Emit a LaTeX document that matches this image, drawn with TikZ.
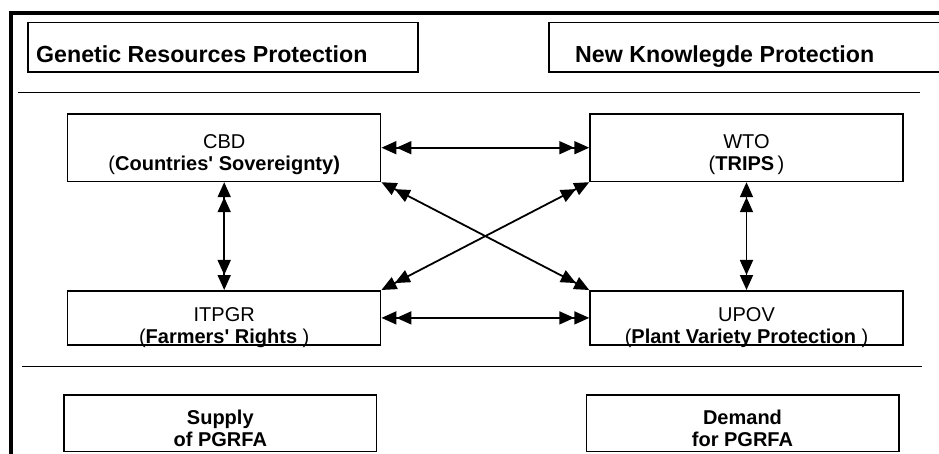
\documentclass[tikz,border=0pt]{standalone}
\usepackage{fontspec}
\setmainfont{Liberation Sans}[Ligatures=TeXOff]
\usetikzlibrary{arrows.meta}

\begin{document}
\begin{tikzpicture}[x=1pt,y=-1pt,
    box/.style={draw,line width=1.5pt,inner sep=0pt,minimum width=313pt},
    txt/.style={align=center,inner sep=0pt,font=\fontsize{20}{22}\selectfont},
    head/.style={inner sep=0pt,font=\fontsize{23.2}{24}\selectfont\bfseries},
    dbl/.style={line width=1.8pt,
        {Triangle[length=15pt,width=13pt,sep=0pt]Triangle[length=15pt,width=13pt,sep=0pt]}-{Triangle[length=15pt,width=13pt,sep=0pt]Triangle[length=15pt,width=13pt,sep=0pt]}}]
    \clip (0,0) rectangle (939,454);
    % frame and separators
    \draw[line width=3.5pt] (945,13) -- (11,13) -- (11,460);
    \draw[line width=1.5pt] (18,92.7) -- (920,92.7);
    \draw[line width=1.5pt] (22,366.7) -- (921.7,366.7);

    % headers
    \node[box,minimum width=390pt,minimum height=49.3pt] (gen) at (222.9,47.4) {};
    \node[box,minimum width=401pt,minimum height=49.3pt] (new) at (749.5,47.4) {};
    \node[head,anchor=base west] (gentxt) at (36,62.5) {Genetic Resources Protection};
    \node[head,anchor=base west] (newtxt) at (575,62.5) {New Knowlegde Protection};

    % treaties
    \node[box,minimum height=67.5pt] (cbd) at (224.2,147.7) {};
    \node[box,minimum height=67.5pt] (wto) at (746.5,147.7) {};
    \node[box,minimum height=54.3pt] (itpgr) at (224.2,317.9) {};
    \node[box,minimum height=54.3pt] (upov) at (746.5,317.9) {};
    \node[txt,anchor=base] (cbdtxt) at (224.2,171) {CBD\\(\textbf{Countries' Sovereignty)}};
    \node[txt,anchor=base] (wtotxt) at (746.5,171) {WTO\\(\textbf{TRIPS}\,)};
    \node[txt,anchor=base] (itpgrtxt) at (224.2,343.5) {ITPGR\\(\textbf{Farmers' Rights}\ )};
    \node[txt,anchor=base] (upovtxt) at (746.5,343) {UPOV\\(\textbf{Plant Variety Protection}\ )};

    \draw[dbl] (cbd) -- (wto);
    \draw[dbl] (itpgr) -- (upov);
    \draw[dbl] (cbd) -- (itpgr);
    \draw[dbl] (wto) -- (upov);
    \draw[dbl] (cbd.south east) -- (upov.north west);
    \draw[dbl] (wto.south west) -- (itpgr.north east);

    % supply and demand
    \node[box,minimum width=312.5pt,minimum height=56.5pt] (supply) at (220.3,423.2) {};
    \node[box,minimum width=312.5pt,minimum height=56.5pt] (demand) at (742.5,423.2) {};
    \node[txt,font=\fontsize{20}{22}\selectfont\bfseries,anchor=base] (supplytxt) at (220.3,446) {Supply\\of PGRFA};
    \node[txt,font=\fontsize{20}{22}\selectfont\bfseries,anchor=base] (demandtxt) at (742.5,446) {Demand\\for PGRFA};
\end{tikzpicture}
\end{document}
